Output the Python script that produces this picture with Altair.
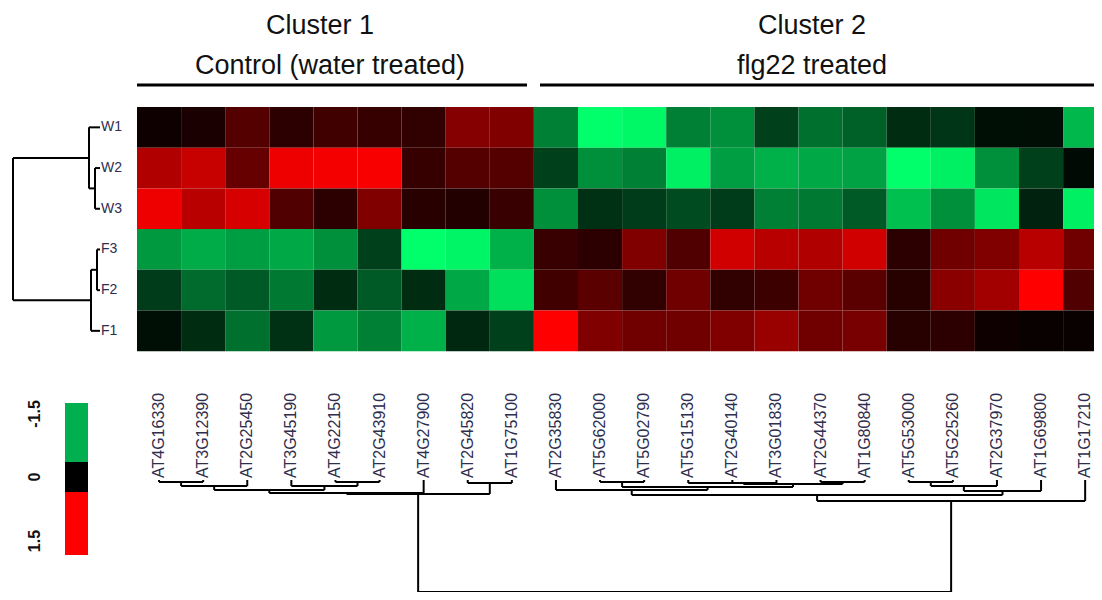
import altair as alt
import pandas as pd

# ---------------- data ----------------
samples = ["W1", "W2", "W3", "F3", "F2", "F1"]
genes = ["AT4G16330", "AT3G12390", "AT2G25450", "AT3G45190", "AT4G22150", "AT2G43910",
         "AT4G27900", "AT2G45820", "AT1G75100",
         "AT2G35830", "AT5G62000", "AT5G02790", "AT5G15130", "AT2G40140", "AT3G01830",
         "AT2G44370", "AT1G80840", "AT5G53000", "AT5G25260", "AT2G37970", "AT1G69800",
         "AT1G17210"]

W1 = [0.09, 0.15, 0.50, 0.26, 0.38, 0.32, 0.29, 0.78, 0.75,
      -0.75, -1.50, -1.46, -0.75, -0.84, -0.38, -0.66, -0.57, -0.26, -0.32, -0.09, -0.08, -1.08]
W2 = [1.04, 1.17, 0.60, 1.40, 1.44, 1.46, 0.32, 0.50, 0.50,
      -0.38, -0.84, -0.75, -1.41, -0.93, -1.04, -0.99, -0.95, -1.50, -1.41, -0.84, -0.38, -0.06]
W3 = [1.40, 1.08, 1.26, 0.47, 0.26, 0.75, 0.24, 0.20, 0.33,
      -0.84, -0.29, -0.35, -0.44, -0.35, -0.75, -0.71, -0.53, -1.13, -0.84, -1.35, -0.20, -1.41]
F3 = [-0.90, -1.01, -0.93, -0.99, -0.84, -0.38, -1.50, -1.44, -1.04,
      0.33, 0.26, 0.75, 0.47, 1.23, 1.08, 1.04, 1.23, 0.26, 0.66, 0.75, 1.08, 0.66]
F2 = [-0.35, -0.63, -0.53, -0.72, -0.26, -0.53, -0.26, -0.99, -1.32,
      0.38, 0.53, 0.29, 0.66, 0.29, 0.35, 0.66, 0.53, 0.23, 0.81, 0.95, 1.50, 0.47]
F1 = [-0.09, -0.26, -0.66, -0.29, -0.90, -0.75, -1.04, -0.23, -0.38,
      1.50, 0.75, 0.66, 0.66, 0.75, 0.90, 0.66, 0.71, 0.23, 0.26, 0.09, 0.05, 0.05]
rows_values = [W1, W2, W3, F3, F2, F1]

# linkage (scipy style: leaf ids 0..n-1, merge k creates node n+k), heights = distance
col_merges = [(0, 1, 2), (22, 2, 6), (4, 5, 2), (3, 24, 6), (23, 25, 10), (26, 6, 13),
              (7, 8, 3), (27, 28, 14),
              (10, 11, 2), (12, 13, 3), (31, 14, 3), (15, 16, 2), (32, 33, 4), (30, 34, 7),
              (9, 35, 10), (17, 18, 2), (37, 19, 6), (38, 20, 11), (36, 39, 15), (40, 21, 21),
              (29, 41, 112)]
row_merges = [(1, 2, 5), (0, 6, 11), (3, 4, 3), (8, 5, 9), (7, 9, 87)]

cluster_titles = ["Cluster 1", "Cluster 2"]
cluster_subtitles = ["Control (water treated)", "flg22 treated"]
legend_labels = ["-1.5", "0", "1.5"]
legend_colors = ["#00b04f", "#000000", "#ff0000"]

# ---------------- layout helpers (pixel -> data units) ----------------
COL_W, X0 = 44.1, 137.0
ROW_H, Y0 = 40.7, 107.0
W, H = 1086, 584


def ux(px):
    return (px - X0) / COL_W


def vy(py):
    return (py - Y0) / ROW_H


xs = alt.Scale(domain=[ux(8), ux(8 + W)], nice=False, zero=False)
ys = alt.Scale(domain=[vy(8), vy(8 + H)], nice=False, zero=False, reverse=True)
FONT = "Liberation Sans"

# heatmap cells
cells = []
for r, (s, vals) in enumerate(zip(samples, rows_values)):
    for c, (g, v) in enumerate(zip(genes, vals)):
        cells.append({"sample": s, "gene": g, "x": c, "x2": c + 1, "y": r, "y2": r + 1, "v": v})
cells = pd.DataFrame(cells)

heat = alt.Chart(cells).mark_rect(clip=True).encode(
    x=alt.X("x:Q", scale=xs, axis=None),
    x2="x2:Q",
    y=alt.Y("y:Q", scale=ys, axis=None),
    y2="y2:Q",
    color=alt.Color("v:Q", legend=None,
                    scale=alt.Scale(domain=[-1.5, 0, 1.5],
                                    range=["#00ff6a", "#000000", "#ff0000"],
                                    interpolate="rgb")),
)


def dendro(n, merges):
    pos = {i: i + 0.5 for i in range(n)}
    hgt = {i: 0.0 for i in range(n)}
    segs = []
    for k, (a, b, h) in enumerate(merges):
        for ch in (a, b):
            segs.append((pos[ch], hgt[ch], pos[ch], h))
        segs.append((pos[a], h, pos[b], h))
        pos[n + k] = (pos[a] + pos[b]) / 2
        hgt[n + k] = h
    return segs


seg_rows = []
for p1, h1, p2, h2 in dendro(len(genes), col_merges):
    seg_rows.append({"x": p1, "y": vy(480 + h1), "x2": p2, "y2": vy(480 + h2)})
for p1, h1, p2, h2 in dendro(len(samples), row_merges):
    seg_rows.append({"x": ux(100 - h1), "y": p1, "x2": ux(100 - h2), "y2": p2})
segs = pd.DataFrame(seg_rows)

dend = alt.Chart(segs).mark_rule(color="black", strokeWidth=2, clip=True).encode(
    x=alt.X("x:Q", scale=xs, axis=None), x2="x2:Q",
    y=alt.Y("y:Q", scale=ys, axis=None), y2="y2:Q",
)

# gene labels
glab = pd.DataFrame({"gene": genes, "x": [i + 0.5 for i in range(len(genes))],
                     "y": [vy(478)] * len(genes)})
gene_text = alt.Chart(glab).mark_text(angle=270, align="left", baseline="middle",
                                      font=FONT, fontSize=16, color="#2e2e4e").encode(
    x=alt.X("x:Q", scale=xs, axis=None), y=alt.Y("y:Q", scale=ys, axis=None), text="gene:N")

# sample labels
slab = pd.DataFrame({"s": samples, "x": [ux(101)] * len(samples),
                     "y": [i + 0.5 for i in range(len(samples))]})
samp_text = alt.Chart(slab).mark_text(align="left", baseline="middle", font=FONT,
                                      fontSize=14, color="#2e2e4e").encode(
    x=alt.X("x:Q", scale=xs, axis=None), y=alt.Y("y:Q", scale=ys, axis=None), text="s:N")

# titles
tdf = pd.DataFrame({"t": cluster_titles + cluster_subtitles,
                    "x": [ux(320), ux(812), ux(330), ux(812)],
                    "y": [vy(26), vy(26), vy(66), vy(66)]})
titles = alt.Chart(tdf).mark_text(align="center", baseline="middle", font=FONT,
                                  fontSize=27, color="#111111").encode(
    x=alt.X("x:Q", scale=xs, axis=None), y=alt.Y("y:Q", scale=ys, axis=None), text="t:N")

udf = pd.DataFrame({"x": [ux(137), ux(540)], "x2": [ux(527), ux(8 + W)],
                    "y": [vy(85), vy(85)]})
underline = alt.Chart(udf).mark_rule(color="black", strokeWidth=3).encode(
    x=alt.X("x:Q", scale=xs, axis=None), x2="x2:Q",
    y=alt.Y("y:Q", scale=ys, axis=None))

# colour key
kdf = pd.DataFrame({"c": legend_colors, "lab": legend_labels,
                    "x": [ux(65)] * 3, "x2": [ux(88)] * 3,
                    "y": [vy(403), vy(462), vy(492)], "y2": [vy(462), vy(492), vy(555)],
                    "ly": [vy(414), vy(477), vy(541)], "lx": [ux(35)] * 3})
key = alt.Chart(kdf).mark_rect().encode(
    x=alt.X("x:Q", scale=xs, axis=None), x2="x2:Q",
    y=alt.Y("y:Q", scale=ys, axis=None), y2="y2:Q",
    color=alt.Color("c:N", scale=None))
key_text = alt.Chart(kdf).mark_text(angle=270, align="center", baseline="middle",
                                    font=FONT, fontSize=16, fontWeight="bold",
                                    color="#111111").encode(
    x=alt.X("lx:Q", scale=xs, axis=None), y=alt.Y("ly:Q", scale=ys, axis=None),
    text="lab:N")

chart = alt.layer(heat, dend, gene_text, samp_text, titles, underline, key, key_text).properties(
    width=W, height=H, padding=0, autosize="none"
).configure_view(stroke=None)

chart.save("out.html", embed_options={"renderer": "svg", "actions": False})
